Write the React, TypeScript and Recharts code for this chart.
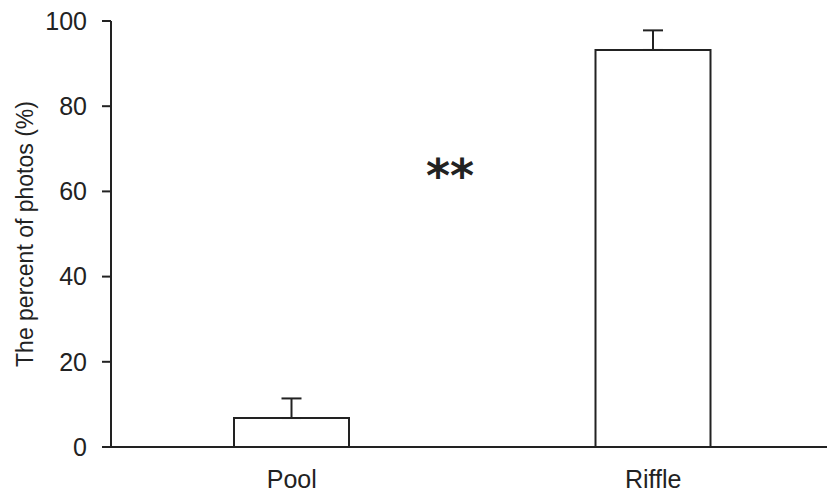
import React from 'react';
import { BarChart, Bar, XAxis, YAxis, ErrorBar } from 'recharts';

const SITES = ['Pool', 'Riffle'];
const PERCENT = [6.8, 93.2];
const SE = [4.6, 4.6];
const Y_TICKS = [0, 20, 40, 60, 80, 100];

const FONT = '"Liberation Sans", Arial, sans-serif';
const INK = '#222';

// upper whisker only: [below, above]
const data = SITES.map((site, i) => ({ site, value: PERCENT[i], err: [0, SE[i]] }));

const YLabel = () => (
  <text
    transform="translate(33,234) rotate(-90)"
    textAnchor="middle"
    fontFamily={FONT}
    fontSize={23}
    fill={INK}
  >
    The percent of photos (%)
  </text>
);

const App: React.FC = () => {
  return (
    <div style={{ position: 'absolute', left: 0, top: 0, width: 827, height: 498, overflow: 'hidden', background: '#fff' }}>
      <BarChart width={834} height={498} data={data} margin={{ top: 21, right: 0, bottom: 0, left: 0 }}>
        <XAxis
          dataKey="site"
          axisLine={{ stroke: INK, strokeWidth: 2 }}
          tickLine={false}
          tickSize={6}
          tickMargin={17}
          height={51}
          tick={{ fontFamily: FONT, fontSize: 25, fill: INK }}
        />
        <YAxis
          domain={[0, 100]}
          ticks={Y_TICKS}
          interval={0}
          width={111}
          axisLine={{ stroke: INK, strokeWidth: 2 }}
          tickLine={{ stroke: INK, strokeWidth: 2 }}
          tickSize={9}
          tickMargin={15}
          tick={{ fontFamily: FONT, fontSize: 25, fill: INK }}
          label={{ content: () => <YLabel /> }}
        />
        <Bar dataKey="value" barSize={115} fill="#fff" stroke={INK} strokeWidth={2} isAnimationActive={false}>
          <ErrorBar dataKey="err" width={10} stroke={INK} strokeWidth={2} direction="y" />
        </Bar>
      </BarChart>
      {/* significance marker between the two sites */}
      <svg width={827} height={498} style={{ position: 'absolute', left: 0, top: 0, pointerEvents: 'none' }}>
        <text x={450} y={192} textAnchor="middle" fontFamily='"DejaVu Sans", sans-serif' fontWeight="bold" fontSize={46} fill={INK}>
          **
        </text>
      </svg>
    </div>
  );
};

export default App;
